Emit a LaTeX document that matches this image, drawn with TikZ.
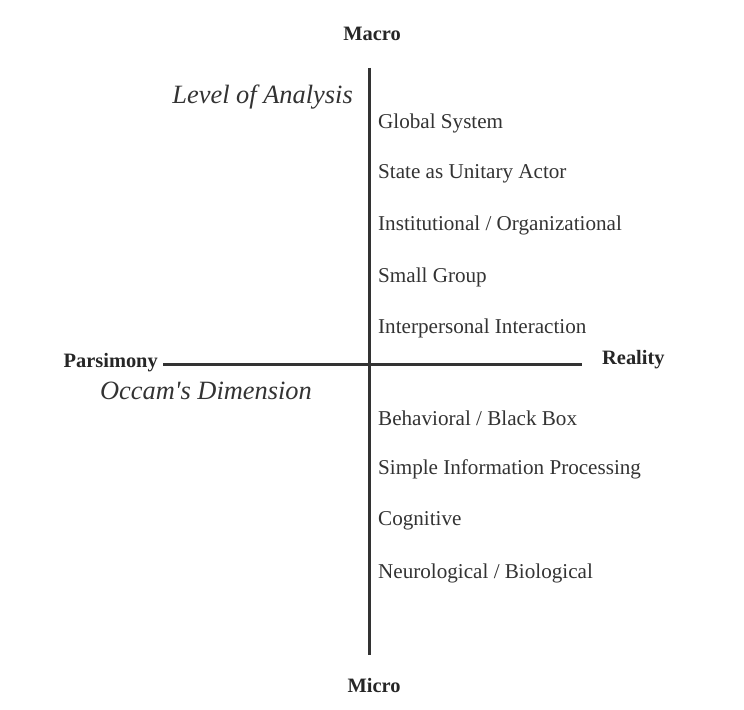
\documentclass[tikz,border=0pt]{standalone}
\usepackage{fontspec}
\setmainfont{Liberation Serif}
\begin{document}
\begin{tikzpicture}[x=1bp,y=-1bp,
  item/.style={anchor=west,inner sep=0pt,font=\fontsize{21.2}{24}\selectfont,text=black!80},
  endlabel/.style={inner sep=0pt,font=\bfseries\fontsize{20.5}{23}\selectfont,text=black!85},
  axislabel/.style={inner sep=0pt,font=\itshape\fontsize{26.5}{30}\selectfont,text=black!80},
  axis/.style={line width=3bp,draw=black!80}]
\useasboundingbox[fill=white] (0,0) rectangle (744,710);
\node[endlabel] (macro) at (372,34) {Macro};
\node[endlabel] (micro) at (374,686) {Micro};
\node[endlabel,anchor=east] (pars) at (158,363) {Parsimony};
\node[endlabel,anchor=west] (real) at (602,360) {Reality};
\coordinate (vtop) at (369,68);
\coordinate (vbot) at (369,655);
\coordinate (hl) at (163,364);
\coordinate (hr) at (582,364);
\draw[axis] (vtop) -- (vbot);
\draw[axis] (hl) -- (hr);
\node[axislabel,anchor=east] (loa) at (353,97) {Level of Analysis};
\node[axislabel] (occ) at (206,391) {Occam\textquotesingle s Dimension};
\node[item] (i1) at (378,123) {Global System};
\node[item] (i2) at (378,174) {State as Unitary Actor};
\node[item] (i3) at (378,225) {Institutional / Organizational};
\node[item] (i4) at (378,277) {Small Group};
\node[item] (i5) at (378,328) {Interpersonal Interaction};
\node[item] (i6) at (378,418) {Behavioral / Black Box};
\node[item] (i7) at (378,469) {Simple Information Processing};
\node[item] (i8) at (378,521) {Cognitive};
\node[item] (i9) at (378,573) {Neurological / Biological};
\end{tikzpicture}
\end{document}
